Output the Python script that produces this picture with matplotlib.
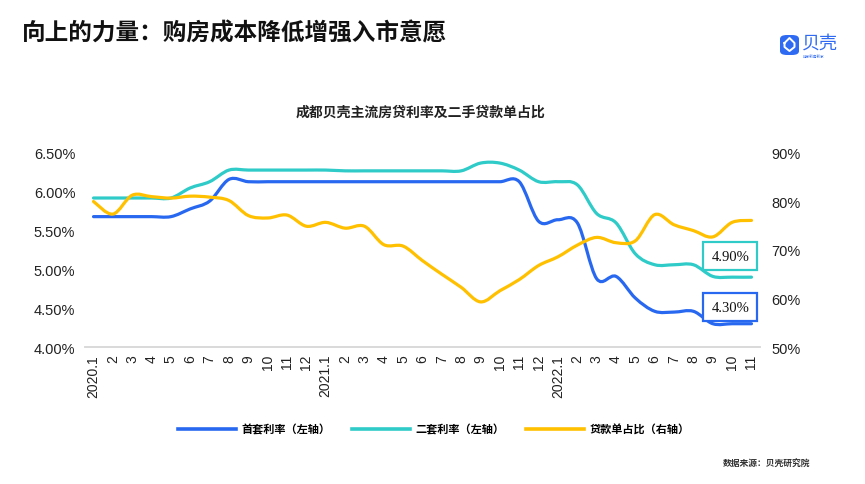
import numpy as np
import matplotlib
matplotlib.use("Agg")
import matplotlib.pyplot as plt
from matplotlib.path import Path
from matplotlib.patches import PathPatch, Rectangle, FancyBboxPatch
from matplotlib.lines import Line2D

plt.rcParams['font.family'] = ['Noto Sans CJK SC', 'DejaVu Sans']

# x categories
months = (["2020.1"] + [str(m) for m in range(2, 13)]
          + ["2021.1"] + [str(m) for m in range(2, 13)]
          + ["2022.1"] + [str(m) for m in range(2, 12)])

# 首套利率 (%), left axis
first_rate = [5.68, 5.68, 5.68, 5.68, 5.68, 5.78, 5.88, 6.16, 6.13, 6.13,
              6.13, 6.13, 6.13, 6.13, 6.13, 6.13, 6.13, 6.13, 6.13, 6.13,
              6.13, 6.13, 6.13, 5.62, 5.64, 5.60, 4.88, 4.91, 4.63, 4.46,
              4.45, 4.46, 4.30, 4.30, 4.30]
# 二套利率 (%), left axis
second_rate = [5.92, 5.92, 5.92, 5.92, 5.92, 6.05, 6.13, 6.28, 6.28, 6.28,
               6.28, 6.28, 6.28, 6.27, 6.27, 6.27, 6.27, 6.27, 6.27, 6.27,
               6.37, 6.37, 6.28, 6.13, 6.13, 6.09, 5.72, 5.60, 5.20, 5.06,
               5.06, 5.06, 4.91, 4.90, 4.90]
# 贷款单占比 (%), right axis
loan_share = [80.0, 77.4, 81.3, 81.0, 80.7, 81.1, 80.9, 80.2, 77.1, 76.6,
              77.2, 74.9, 75.7, 74.5, 74.9, 71.1, 70.8, 67.8, 65.0, 62.3,
              59.3, 61.6, 63.9, 66.8, 68.6, 71.0, 72.6, 71.5, 71.9, 77.3,
              75.2, 74.0, 72.7, 75.7, 76.1]

left_ticks = [4.0, 4.5, 5.0, 5.5, 6.0, 6.5]
right_ticks = [50, 60, 70, 80, 90]

BLUE = "#2868f0"
TEAL = "#2ecbc8"
YELLOW = "#ffc000"


def smooth_path(x, y):
    # catmull-rom style smoothing as bezier curves (like excel smoothed lines)
    x = np.asarray(x, float)
    y = np.asarray(y, float)
    n = len(x)
    verts = [(x[0], y[0])]
    codes = [Path.MOVETO]
    for i in range(n - 1):
        a = max(i - 1, 0)
        b = min(i + 2, n - 1)
        c1 = (x[i] + (x[i + 1] - x[a]) / 6, y[i] + (y[i + 1] - y[a]) / 6)
        c2 = (x[i + 1] - (x[b] - x[i]) / 6, y[i + 1] - (y[b] - y[i]) / 6)
        verts += [c1, c2, (x[i + 1], y[i + 1])]
        codes += [Path.CURVE4] * 3
    return Path(verts, codes)


fig = plt.figure(figsize=(8.65, 4.85), dpi=100)
ax = fig.add_axes([85 / 865, 1 - 348 / 485, 675 / 865, 194 / 485])
ax2 = ax.twinx()

xs = np.arange(len(months))
lw = 2.3
for vals, col in [(first_rate, BLUE), (second_rate, TEAL)]:
    ax.add_patch(PathPatch(smooth_path(xs, vals), fill=False, edgecolor=col,
                           lw=lw, capstyle='round', joinstyle='round'))
ax2.add_patch(PathPatch(smooth_path(xs, loan_share), fill=False, edgecolor=YELLOW,
                        lw=lw, capstyle='round', joinstyle='round'))

ax.set_xlim(-0.44, len(months) - 1 + 0.44)
ax.set_ylim(4.0, 6.5)
ax2.set_ylim(50, 90)
ax.set_yticks(left_ticks)
ax.set_yticklabels([f"{v:.2f}%" for v in left_ticks], family='Liberation Sans', fontsize=10.5)
ax2.set_yticks(right_ticks)
ax2.set_yticklabels([f"{v}%" for v in right_ticks], family='Liberation Sans', fontsize=10.5)
ax.set_xticks(xs)
ax.set_xticklabels(months, rotation=90, family='Liberation Sans', fontsize=10, va='top')

for a in (ax, ax2):
    for s in ("top", "right", "left"):
        a.spines[s].set_visible(False)
    a.spines["bottom"].set_color("#d9d9d9")
    a.spines["bottom"].set_linewidth(1.2)
    a.tick_params(length=0, colors="#222222")
ax.tick_params(axis='y', pad=7)
ax2.tick_params(axis='y', pad=8)
ax.tick_params(axis='x', pad=5)

# end value boxes
for vals, col, dy in [(second_rate, TEAL, 0.27), (first_rate, BLUE, 0.21)]:
    cx = len(vals) - 1 - 1.1
    cy = vals[-1] + dy
    ax.add_patch(Rectangle((cx - 1.39, cy - 0.18), 2.78, 0.36, facecolor='white',
                           edgecolor=col, lw=1.6, zorder=5))
    ax.text(cx, cy, f"{vals[-1]:.2f}%", ha='center', va='center', zorder=6,
            family='Liberation Serif', fontsize=10.5, color='#111111')

# titles
fig.text(22 / 865, 1 - 33 / 485, "向上的力量：购房成本降低增强入市意愿", fontsize=17,
         fontweight='heavy', ha='left', va='center', color='#111111')
fig.text(420 / 865, 1 - 113 / 485, "成都贝壳主流房贷利率及二手贷款单占比", fontsize=10,
         fontweight='bold', ha='center', va='center', color='#222222')
fig.text(810 / 865, 1 - 464 / 485, "数据来源：贝壳研究院", fontsize=6.3,
         fontweight='bold', ha='right', va='center', color='#333333')

# logo
fig.patches.append(FancyBboxPatch((780 / 865, 1 - 56 / 485), 19 / 865, 20 / 485,
                                  boxstyle="round,pad=0,rounding_size=0.008",
                                  transform=fig.transFigure, facecolor="#2f6bf2",
                                  edgecolor='none'))
fig.add_artist(Line2D([784.5 / 865, 789.5 / 865, 794.5 / 865, 794.5 / 865, 789.5 / 865,
                       784.5 / 865, 784.5 / 865],
                      [1 - 44 / 485, 1 - 39 / 485, 1 - 44 / 485, 1 - 48 / 485,
                       1 - 52 / 485, 1 - 48 / 485, 1 - 44 / 485],
                      transform=fig.transFigure, color='white', lw=1.4))
fig.text(802 / 865, 1 - 44 / 485, "贝壳", fontsize=13, color="#2f6bf2",
         ha='left', va='center')
fig.text(803 / 865, 1 - 57 / 485, "链家新房新家", fontsize=2.6, color="#2f6bf2",
         ha='left', va='center')

# legend
handles = [Line2D([], [], color=BLUE, lw=2.6),
           Line2D([], [], color=TEAL, lw=2.6),
           Line2D([], [], color=YELLOW, lw=2.6)]
labels = ["首套利率（左轴）", "二套利率（左轴）", "贷款单占比（右轴）"]
fig.legend(handles, labels, loc='center', bbox_to_anchor=(434 / 865, 1 - 430 / 485),
           ncol=3, frameon=False, handlelength=5.2, handletextpad=0.55,
           columnspacing=1.9, prop={'size': 8, 'weight': 'bold'})

fig.savefig("out.png", dpi=100)
